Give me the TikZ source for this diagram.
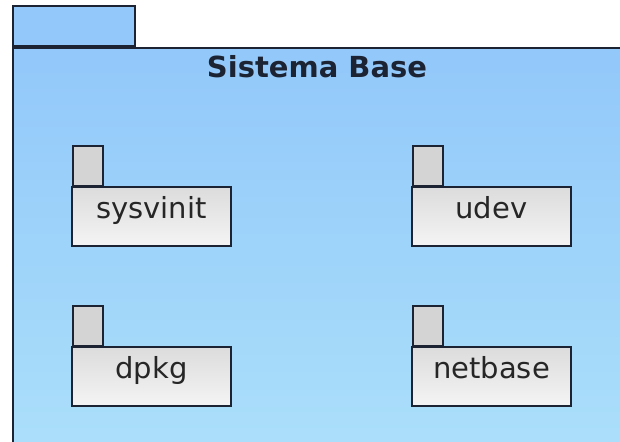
\documentclass[tikz,border=0pt]{standalone}
\usepackage{fontspec}
\setmainfont{DejaVu Sans}
\definecolor{PkgLine}{RGB}{28,36,52}
\definecolor{BaseTop}{RGB}{146,200,250}
\definecolor{BaseBottom}{RGB}{172,224,250}
\definecolor{PkgTop}{RGB}{220,220,220}
\definecolor{PkgBottom}{RGB}{244,244,244}
\definecolor{TabGray}{RGB}{212,212,212}
\definecolor{LabelGray}{RGB}{38,38,38}
\begin{document}
\begin{tikzpicture}[x=1pt,y=-1pt]
	\useasboundingbox (0,0) rectangle (620,441);
	\clip (0,0) rectangle (620,441);
	\tikzstyle{pkgbody}=[draw=PkgLine, line width=1.8pt, top color=PkgTop, bottom color=PkgBottom, inner sep=0pt, minimum width=159pt, text height=31pt, text depth=28pt, font=\fontsize{29}{34}\selectfont, text=LabelGray];
	\tikzstyle{pkgtab}=[draw=PkgLine, line width=1.8pt, fill=TabGray, inner sep=0pt, minimum width=30pt, minimum height=40pt, anchor=south west];
	% outer package
	\node [draw=PkgLine, line width=1.8pt, fill=BaseTop, inner sep=0pt, minimum width=122pt, minimum height=40pt, anchor=south west] (basetab) at (12,47) {};
	\node [draw=PkgLine, line width=1.8pt, top color=BaseTop, bottom color=BaseBottom, inner sep=0pt, minimum width=640pt, minimum height=420pt, anchor=north west] (base) at (12,47) {};
	\node [font=\bfseries\fontsize{29}{34}\selectfont, text=PkgLine, anchor=base] (title) at (317,78) {Sistema Base};
	% inner packages
	\node [pkgtab] (sysvinittab) at (72,187) {};
	\node [pkgbody] (sysvinit) at (151.5,216.5) {sysvinit};
	\node [pkgtab] (udevtab) at (412,187) {};
	\node [pkgbody] (udev) at (491.5,216.5) {udev};
	\node [pkgtab] (dpkgtab) at (72,347) {};
	\node [pkgbody] (dpkg) at (151.5,376.5) {dpkg};
	\node [pkgtab] (netbasetab) at (412,347) {};
	\node [pkgbody] (netbase) at (491.5,376.5) {netbase};
\end{tikzpicture}
\end{document}
